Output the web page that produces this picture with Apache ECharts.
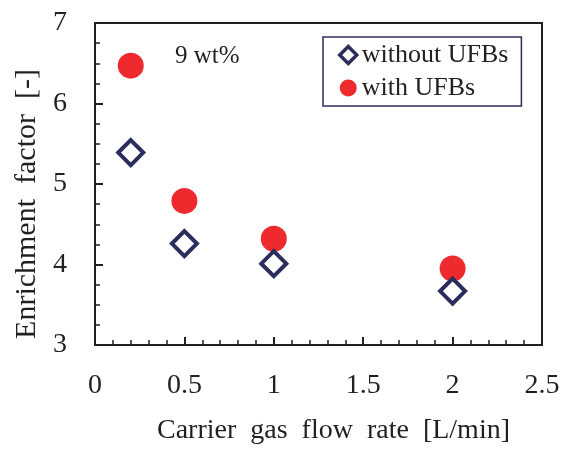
<!DOCTYPE html>
<html>
<head>
<meta charset="utf-8">
<script src="https://cdn.jsdelivr.net/npm/echarts@6/dist/echarts.min.js"></script>
<style>
  html, body { margin: 0; padding: 0; background: #fff; }
  #chart { width: 573px; height: 450px; }
</style>
</head>
<body>
<div id="chart"></div>
<script>
// flow rate [L/min] vs enrichment factor
var flowRates = [0.2, 0.5, 1, 2];
var withoutUFBs = [5.39, 4.26, 4.01, 3.67];
var withUFBs = [6.47, 4.79, 4.32, 3.95];

var ink = '#231f20';
var navy = '#2b2d5c';
var red = '#ee2a2f';
var serif = '"Liberation Serif", "DejaVu Serif", serif';

function pairs(xs, ys) {
  return xs.map(function (x, i) { return [x, ys[i]]; });
}

var chart = echarts.init(document.getElementById('chart'), null, { renderer: 'canvas' });

chart.setOption({
  animation: false,
  backgroundColor: '#fff',
  textStyle: { fontFamily: serif, color: ink },
  title: {
    text: '9 wt%',
    left: 175, top: 44, padding: 0,
    textStyle: { fontFamily: serif, fontSize: 25, fontWeight: 'normal', color: ink }
  },
  grid: {
    left: 95, right: 31, top: 23, bottom: 103,
    show: true, borderColor: ink, borderWidth: 2, backgroundColor: 'transparent'
  },
  legend: {
    orient: 'vertical',
    left: 323, top: 37,
    padding: [5, 13, 5, 15],
    itemGap: 7,
    itemWidth: 17, itemHeight: 17,
    borderColor: navy, borderWidth: 1.5,
    textStyle: { fontFamily: serif, fontSize: 26, color: ink },
    data: [
      { name: 'without UFBs', itemStyle: { color: '#fff', borderColor: navy, borderWidth: 3.5 } },
      { name: 'with UFBs' }
    ]
  },
  xAxis: {
    type: 'value',
    min: 0, max: 2.5, interval: 0.5,
    name: 'Carrier  gas  flow  rate  [L/min]',
    nameLocation: 'middle', nameGap: 72,
    nameTextStyle: { fontFamily: serif, fontSize: 28, color: ink, padding: [0, 0, 0, 30] },
    axisLine: { lineStyle: { color: ink, width: 2 } },
    axisTick: { inside: true, length: 8, lineStyle: { color: ink, width: 2 } },
    minorTick: { show: true, splitNumber: 5, length: 5, lineStyle: { color: ink, width: 1.5 } },
    axisLabel: { fontFamily: serif, fontSize: 28, color: ink, margin: 27 },
    splitLine: { show: false }
  },
  yAxis: {
    type: 'value',
    min: 3, max: 7, interval: 1,
    name: 'Enrichment  factor  [-]',
    nameLocation: 'middle', nameGap: 51,
    nameTextStyle: { fontFamily: serif, fontSize: 30, color: ink, padding: [0, 40, 0, 0] },
    axisLine: { lineStyle: { color: ink, width: 2 } },
    axisTick: { inside: true, length: 8, lineStyle: { color: ink, width: 2 } },
    minorTick: { show: true, splitNumber: 4, length: 5, lineStyle: { color: ink, width: 1.5 } },
    axisLabel: { fontFamily: serif, fontSize: 28, color: ink, margin: 28 },
    splitLine: { show: false }
  },
  series: [
    {
      name: 'without UFBs',
      type: 'scatter',
      symbol: 'diamond',
      symbolSize: 25,
      itemStyle: { color: '#fff', borderColor: navy, borderWidth: 4, opacity: 1 },
      data: pairs(flowRates, withoutUFBs),
      z: 3
    },
    {
      name: 'with UFBs',
      type: 'scatter',
      symbol: 'circle',
      symbolSize: 26,
      itemStyle: { color: red, opacity: 1 },
      data: pairs(flowRates, withUFBs),
      z: 2
    }
  ]
});

window.addEventListener('resize', function () { chart.resize(); });
</script>
</body>
</html>
